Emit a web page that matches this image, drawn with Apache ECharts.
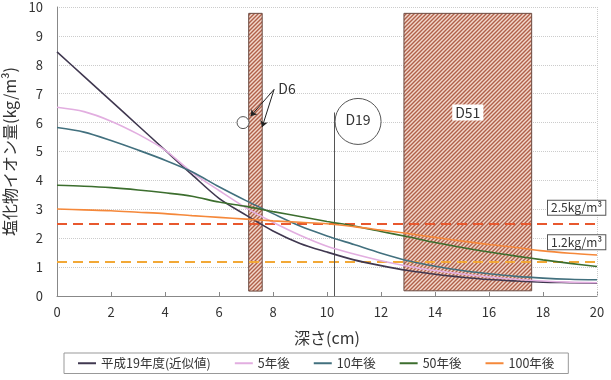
<!DOCTYPE html>
<html><head><meta charset="utf-8">
<script src="https://cdn.jsdelivr.net/npm/echarts@6/dist/echarts.min.js"></script>
<style>html,body{margin:0;padding:0;background:#fff}#c{width:611px;height:380px}</style>
</head><body><div id="c"></div>
<script>
const depths = [0,1,2,3,4,5,6,7,8,9,10,11,12,13,14,15,16,17,18,19,20];
const seriesNames = ['平成19年度(近似値)','5年後','10年後','50年後','100年後'];
const h19   = [8.45,7.6,6.75,5.9,5.05,4.2,3.38,2.8,2.25,1.82,1.52,1.25,1.05,0.88,0.75,0.65,0.57,0.52,0.48,0.46,0.44];
const y5    = [6.53,6.38,6.05,5.6,5.05,4.28,3.65,3.05,2.55,2.1,1.72,1.45,1.22,1.03,0.88,0.76,0.66,0.58,0.52,0.48,0.46];
const y10   = [5.83,5.67,5.38,5.05,4.7,4.3,3.78,3.3,2.85,2.42,2.08,1.78,1.48,1.22,1.03,0.88,0.77,0.68,0.62,0.58,0.56];
const y50   = [3.83,3.8,3.75,3.67,3.57,3.45,3.25,3.1,2.92,2.75,2.58,2.42,2.23,2.05,1.85,1.68,1.52,1.38,1.25,1.13,1.02];
const y100  = [3.01,2.98,2.95,2.9,2.85,2.78,2.72,2.66,2.6,2.55,2.5,2.4,2.28,2.16,2.03,1.9,1.78,1.68,1.56,1.48,1.42];
const thresholds = [2.5, 1.2];
const thresholdLabels = ['2.5kg/m³','1.2kg/m³'];
const d6Range = [7.1, 7.6, 0.17, 9.78];
const d51Range = [12.85, 17.58, 0.18, 9.78];
const d19Depth = 10.26;
const xTicks = [0,20,2];
const yTicks = [0,10,1];

const colors = ['#403850','#e2aee0','#42707e','#3c6e2e','#f5883a'];
const valuesList = [h19,y5,y10,y50,y100];

function hatch(){
  const c=document.createElement('canvas'); c.width=4;c.height=4;
  const g=c.getContext('2d'); g.fillStyle='#f2d8cc'; g.fillRect(0,0,4,4);
  g.strokeStyle='#b0604a'; g.lineWidth=1.4;
  g.beginPath();
  g.moveTo(0,4); g.lineTo(4,0);
  g.moveTo(-2,2); g.lineTo(2,-2);
  g.moveTo(2,6); g.lineTo(6,2);
  g.stroke();
  return c;
}
const pat = {image: hatch(), repeat:'repeat'};
const font = '"Noto Sans CJK JP", "Noto Sans", sans-serif';

const chart = echarts.init(document.getElementById('c'), null, {renderer:'canvas'});
const lineSeries = seriesNames.map((n,i)=>({
  name:n, type:'line', smooth:0.3, symbol:'none', z:5,
  data: depths.map((d,j)=>[d, valuesList[i][j]]),
  lineStyle:{color:colors[i], width:1.6}, itemStyle:{color:colors[i]}
}));
const helper = {
  type:'line', data:[], z:2, silent:true,
  markArea:{ silent:true,
    itemStyle:{color:pat, borderColor:'#6b4a40', borderWidth:1},
    data:[
      [{coord:[d6Range[0],d6Range[2]]},{coord:[d6Range[1],d6Range[3]]}],
      [{coord:[d51Range[0],d51Range[2]]},{coord:[d51Range[1],d51Range[3]]}]
    ]},
  markLine:{ silent:true, symbol:'none', label:{show:false},
    data:[
      [{coord:[0,thresholds[0]], lineStyle:{color:'#e8582e', type:[10,6], width:2}},{coord:[20,thresholds[0]]}],
      [{coord:[0,thresholds[1]], lineStyle:{color:'#f2a836', type:[10,6], width:2}},{coord:[20,thresholds[1]]}],
      [{coord:[20,0], lineStyle:{color:'#cccccc', type:'dotted', width:1}},{coord:[20,10]}],
      [{coord:[d19Depth,0], lineStyle:{color:'#555', type:'solid', width:1}},{coord:[d19Depth,6.35]}],
      [{coord:[8.04,7.15], lineStyle:{color:'#222', type:'solid', width:1}, symbol:'none'},{coord:[7.17,6.22], symbol:'arrow'}],
      [{coord:[8.04,7.15], lineStyle:{color:'#222', type:'solid', width:1}, symbol:'none'},{coord:[7.6,5.85], symbol:'arrow'}]
    ], symbolSize:6 }
};

chart.setOption({
  animation:false,
  textStyle:{fontFamily:font},
  grid:{left:57, right:14, top:7, bottom:84, outerBoundsMode:'none', containLabel:false},
  legend:{ data:seriesNames, left:64, top:353, padding:[4,14,4,14], itemGap:24,
    itemWidth:18, itemHeight:2, icon:'rect', borderColor:'#999', borderWidth:1,
    textStyle:{fontSize:12.5, color:'#333', fontFamily:font} },
  xAxis:{ type:'value', min:xTicks[0], max:xTicks[1], interval:xTicks[2],
    name:'深さ(cm)', nameLocation:'middle', nameGap:34,
    nameTextStyle:{fontSize:16, color:'#333'},
    axisLine:{lineStyle:{color:'#888'}}, axisTick:{inside:true, length:4, lineStyle:{color:'#888'}},
    axisLabel:{fontSize:13, color:'#333', margin:10}, splitLine:{show:false} },
  yAxis:{ type:'value', min:yTicks[0], max:yTicks[1], interval:yTicks[2],
    name:'塩化物イオン量(kg/m³)', nameLocation:'middle', nameGap:25, nameRotate:90,
    nameTextStyle:{fontSize:16, color:'#333'},
    axisLine:{show:true, lineStyle:{color:'#888'}}, axisTick:{show:false},
    axisLabel:{fontSize:13, color:'#333', margin:14},
    splitLine:{lineStyle:{color:'#cccccc', type:'dotted'}} },
  series:[helper, ...lineSeries]
});

function px(x,y){ return chart.convertToPixel({gridIndex:0},[x,y]); }
const d19c = px(11.15, 6.04);
const d6c = px(6.89, 6.0);
const d6t = px(8.52, 7.19);
const d51t = px((d51Range[0]+d51Range[1])/2, 6.35);
const t1 = px(20, thresholds[0]);
const t2 = px(20, thresholds[1]);
chart.setOption({graphic:[
  {type:'circle', shape:{cx:d19c[0], cy:d19c[1], r:23}, style:{fill:'#fff', stroke:'#555', lineWidth:1}, z:10},
  {type:'text', x:d19c[0], y:d19c[1]-2, style:{text:'D19', fill:'#333', font:'14px '+font, align:'center', verticalAlign:'middle'}, z:11},
  {type:'circle', shape:{cx:d6c[0], cy:d6c[1], r:6}, style:{fill:'#fff', stroke:'#555', lineWidth:1}, z:10},
  {type:'text', x:d6t[0], y:d6t[1], style:{text:'D6', fill:'#333', font:'14px '+font, align:'center', verticalAlign:'middle'}, z:11},
  {type:'text', x:d51t[0], y:d51t[1], style:{text:'D51', fill:'#333', font:'14px '+font, align:'center', verticalAlign:'middle', backgroundColor:'#fff', padding:[1,3]}, z:11},
  {type:'text', x:t1[0]-49, y:t1[1]-23, style:{text:thresholdLabels[0], fill:'#333', font:'12px '+font, backgroundColor:'#fff', borderColor:'#555', borderWidth:1, padding:[1,3]}, z:11},
  {type:'text', x:t2[0]-49, y:t2[1]-26, style:{text:thresholdLabels[1], fill:'#333', font:'12px '+font, backgroundColor:'#fff', borderColor:'#555', borderWidth:1, padding:[1,3]}, z:11}
]});
</script></body></html>
